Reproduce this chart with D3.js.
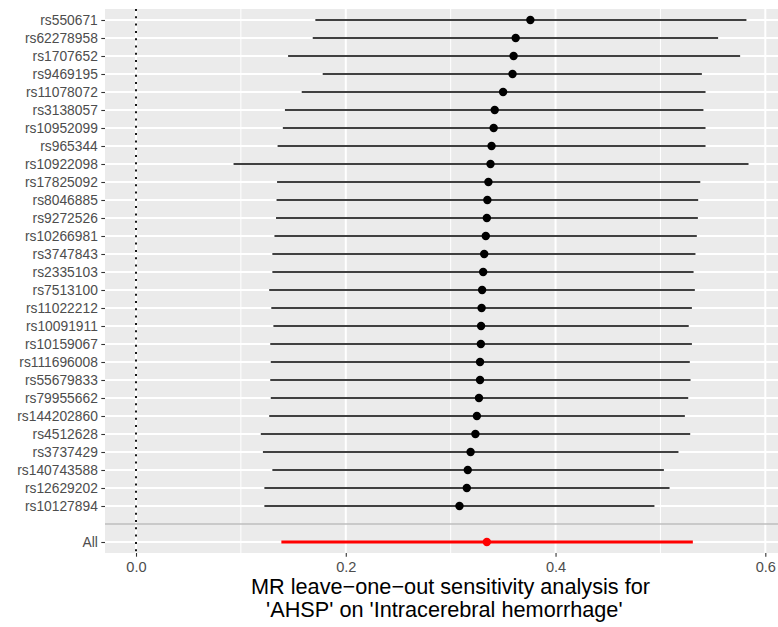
<!DOCTYPE html>
<meta charset="utf-8">
<body style="margin:0;background:#fff">
<svg id="chart"></svg>
<script src="https://d3js.org/d3.v7.min.js"></script>
<script>
// leave-one-out results, top to bottom
var snps = ["rs550671","rs62278958","rs1707652","rs9469195","rs11078072","rs3138057","rs10952099",
  "rs965344","rs10922098","rs17825092","rs8046885","rs9272526","rs10266981","rs3747843","rs2335103",
  "rs7513100","rs11022212","rs10091911","rs10159067","rs111696008","rs55679833","rs79955662",
  "rs144202860","rs4512628","rs3737429","rs140743588","rs12629202","rs10127894"];
var est = [0.376,0.362,0.360,0.359,0.350,0.342,0.341,0.339,0.338,0.336,0.335,0.3345,0.3335,0.332,0.331,
  0.330,0.3295,0.329,0.3288,0.328,0.328,0.327,0.325,0.3236,0.319,0.3163,0.3154,0.3084];
var lower = [0.171,0.1685,0.145,0.178,0.158,0.142,0.140,0.135,0.093,0.1345,0.134,0.1335,0.132,0.130,0.130,
  0.127,0.129,0.131,0.128,0.1285,0.128,0.1285,0.127,0.119,0.121,0.130,0.1224,0.1224];
var upper = [0.582,0.555,0.576,0.5395,0.543,0.541,0.543,0.543,0.584,0.538,0.536,0.5357,0.5347,0.5334,0.5316,
  0.5328,0.530,0.527,0.530,0.528,0.5287,0.5265,0.5233,0.5284,0.5172,0.5033,0.5087,0.4943];
var allLabel = "All", allEst = 0.3345, allLower = 0.1386, allUpper = 0.5309;
var xTicks = [0, 0.2, 0.4, 0.6];
var xMinor = [0.1, 0.3, 0.5];

var width = 778, height = 627;
var panel = {left: 105, top: 9, right: 778, bottom: 553};

var svg = d3.select("#chart").attr("width", width).attr("height", height)
  .style("font-family", "'Liberation Sans', Arial, sans-serif");

var x = d3.scaleLinear().domain([-0.02956, 0.6121]).range([panel.left, panel.right]);
var cats = snps.concat(["", allLabel]);
var y = d3.scalePoint().domain(cats).range([20, 542]);

// panel background + grid
svg.append("rect")
  .attr("x", panel.left).attr("y", panel.top)
  .attr("width", panel.right - panel.left).attr("height", panel.bottom - panel.top)
  .attr("fill", "#EBEBEB");

svg.append("g").selectAll("line").data(xMinor).enter().append("line")
  .attr("x1", d => x(d)).attr("x2", d => x(d))
  .attr("y1", panel.top).attr("y2", panel.bottom)
  .attr("stroke", "#fff").attr("stroke-width", 1);

svg.append("g").selectAll("line").data(xTicks).enter().append("line")
  .attr("x1", d => x(d)).attr("x2", d => x(d))
  .attr("y1", panel.top).attr("y2", panel.bottom)
  .attr("stroke", "#fff").attr("stroke-width", 2);

svg.append("g").selectAll("line").data(snps.concat([allLabel])).enter().append("line")
  .attr("x1", panel.left).attr("x2", panel.right)
  .attr("y1", d => y(d)).attr("y2", d => y(d))
  .attr("stroke", "#fff").attr("stroke-width", 2);

// zero line + separator
svg.append("line")
  .attr("x1", x(0)).attr("x2", x(0)).attr("y1", panel.top).attr("y2", panel.bottom)
  .attr("stroke", "#000").attr("stroke-width", 1.8).attr("stroke-dasharray", "2,5.3");

svg.append("line")
  .attr("x1", panel.left).attr("x2", panel.right).attr("y1", y("")).attr("y2", y(""))
  .attr("stroke", "#BEBEBE").attr("stroke-width", 1.5);

// error bars and points
var rows = snps.map((s, i) => ({snp: s, b: est[i], lo: lower[i], hi: upper[i]}));
var marks = svg.append("g");
marks.selectAll("line.ci").data(rows).enter().append("line")
  .attr("class", "ci")
  .attr("x1", d => x(d.lo)).attr("x2", d => x(d.hi))
  .attr("y1", d => y(d.snp)).attr("y2", d => y(d.snp))
  .attr("stroke", "#000").attr("stroke-width", 1.3);
marks.selectAll("circle").data(rows).enter().append("circle")
  .attr("cx", d => x(d.b)).attr("cy", d => y(d.snp)).attr("r", 4.2)
  .attr("fill", "#000");

marks.append("line")
  .attr("x1", x(allLower)).attr("x2", x(allUpper))
  .attr("y1", y(allLabel)).attr("y2", y(allLabel))
  .attr("stroke", "#FF0000").attr("stroke-width", 3.2);
marks.append("circle")
  .attr("cx", x(allEst)).attr("cy", y(allLabel)).attr("r", 4.2)
  .attr("fill", "#FF0000");

// axes
var yAxis = svg.append("g")
  .attr("transform", "translate(" + panel.left + ",0)")
  .call(d3.axisLeft(y).tickSize(3.7).tickPadding(3.5).tickValues(snps.concat([allLabel])));
var xAxis = svg.append("g")
  .attr("transform", "translate(0," + panel.bottom + ")")
  .call(d3.axisBottom(x).tickValues(xTicks).tickFormat(d3.format(".1f")).tickSize(3.7).tickPadding(4.5));
[yAxis, xAxis].forEach(function(a){
  a.select(".domain").remove();
  a.selectAll(".tick line").attr("stroke", "#333").attr("stroke-width", 1.1);
  a.selectAll(".tick text").attr("fill", "#4D4D4D")
    .style("font-family", "'Liberation Sans', Arial, sans-serif");
});
yAxis.selectAll(".tick text").style("font-size", "13.8px");
xAxis.selectAll(".tick text").style("font-size", "14.6px");

// title under x axis
var title = svg.append("text")
  .attr("text-anchor", "middle").attr("fill", "#000")
  .style("font-size", "21.7px");
title.append("tspan").attr("x", 450.5).attr("y", 594).text("MR leave\u2212one\u2212out sensitivity analysis for");
title.append("tspan").attr("x", 444.3).attr("y", 616.5).text("'AHSP' on 'Intracerebral hemorrhage'");
</script>
</body>
